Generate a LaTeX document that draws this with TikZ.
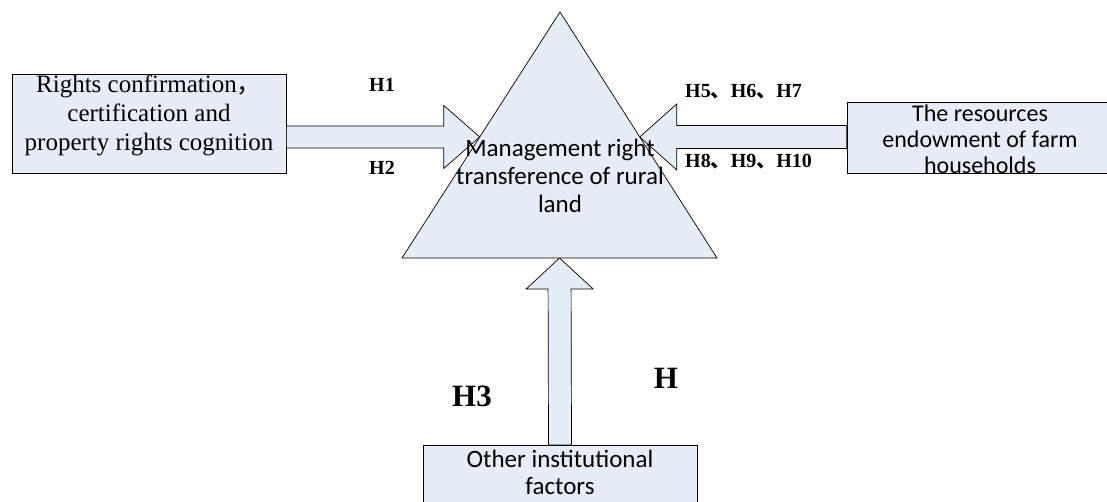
\documentclass[tikz,border=0pt]{standalone}
\usepackage{fontspec}
\setmainfont{Liberation Serif}
\newfontfamily\calibri{Carlito}
\newfontfamily\cjk{Noto Sans CJK SC}
\usetikzlibrary{calc}
\definecolor{boxfill}{RGB}{230,237,247}

% block arrow: tail, tip, shaft half width, head half width, head length
\newcommand\blockarrow[5]{%
	\coordinate (hb) at ($(#2)!#5!(#1)$);
	\draw[barrow] ($(#1)!#3!90:(#2)$) -- ($(hb)!#3!90:(#2)$) -- ($(hb)!#4!90:(#2)$) -- (#2)
		-- ($(hb)!#4!-90:(#2)$) -- ($(hb)!#3!-90:(#2)$) -- ($(#1)!#3!-90:(#2)$) -- cycle;}

\begin{document}
\begin{tikzpicture}[
		x=1pt, y=-1pt,
		box/.style={draw, fill=boxfill, line width=0.7pt, inner sep=0pt},
		barrow/.style={draw, fill=boxfill, line width=0.7pt, line join=miter},
		tri/.style={draw, fill=boxfill, line width=0.7pt},
		serif text/.style={font=\fontsize{25}{29}\selectfont, align=center, inner sep=0pt},
		sans text/.style={font=\calibri\fontsize{25}{27}\selectfont, align=center, inner sep=0pt},
		hlabel/.style={font=\bfseries\fontsize{20}{24}\selectfont, inner sep=0pt},
		big hlabel/.style={font=\bfseries\fontsize{31}{34}\selectfont, inner sep=0pt}
		]
		\useasboundingbox (0,0) rectangle (1107,501);
		\clip (0,0) rectangle (1107,501);
		
		% ---- boxes ----
		\node[box, minimum width=274pt, minimum height=99pt] (lbox) at (149,123.5) {};
		\node[box, minimum width=262pt, minimum height=71pt] (rbox) at (978,137.5) {};
		\node[box, minimum width=274pt, minimum height=80pt, anchor=north] (bbox) at (560,445) {};
		
		% ---- triangle ----
		\coordinate (apex) at (560,12);
		\coordinate (bl) at (402,258);
		\coordinate (br) at (717,258);
		
		\coordinate (ltip) at ($(apex)!0.508!(bl)$);
		\coordinate (rtip) at ($(apex)!0.508!(br)$);
		\coordinate (btip) at ($(bl)!0.5!(br)$);
		\coordinate (ltail) at (lbox.east |- ltip);
		\coordinate (rtail) at (rbox.west |- rtip);
		
		% ---- block arrows ----
		\blockarrow{ltail}{ltip}{11pt}{31.5pt}{36pt}
		\blockarrow{rtail}{rtip}{11.5pt}{33pt}{37pt}
		\blockarrow{bbox.north}{btip}{11.5pt}{33.5pt}{31pt}
		
		\draw[tri] (apex) -- (bl) -- (br) -- cycle;
		
		% ---- texts ----
		\node[serif text] (ltxt) at (149,115) {Rights confirmation{\cjk ，}\\certification and\\property rights cognition};
		\node[sans text, font=\calibri\fontsize{24}{26}\selectfont] (rtxt) at (980,139) {The resources\\endowment of farm\\households};
		\node[sans text, font=\calibri\fontsize{25}{28}\selectfont] (ttxt) at (560,176) {Management right\\transference of rural\\land};
		\node[sans text, anchor=north] (btxt) at (560,450) {Other institutional\\factors};
		
		\node[hlabel] (h1) at (382,85) {H1};
		\node[hlabel] (h2) at (382,168) {H2};
		\node[hlabel, anchor=west] (h5) at (685,92) {H5{\cjk 、}H6{\cjk 、}H7};
		\node[hlabel, anchor=west] (h8) at (685,162) {H8{\cjk 、}H9{\cjk 、}H10};
		\node[big hlabel] (h3) at (472,396) {H3};
		\node[big hlabel] (h) at (666,378) {H};
	\end{tikzpicture}
\end{document}
